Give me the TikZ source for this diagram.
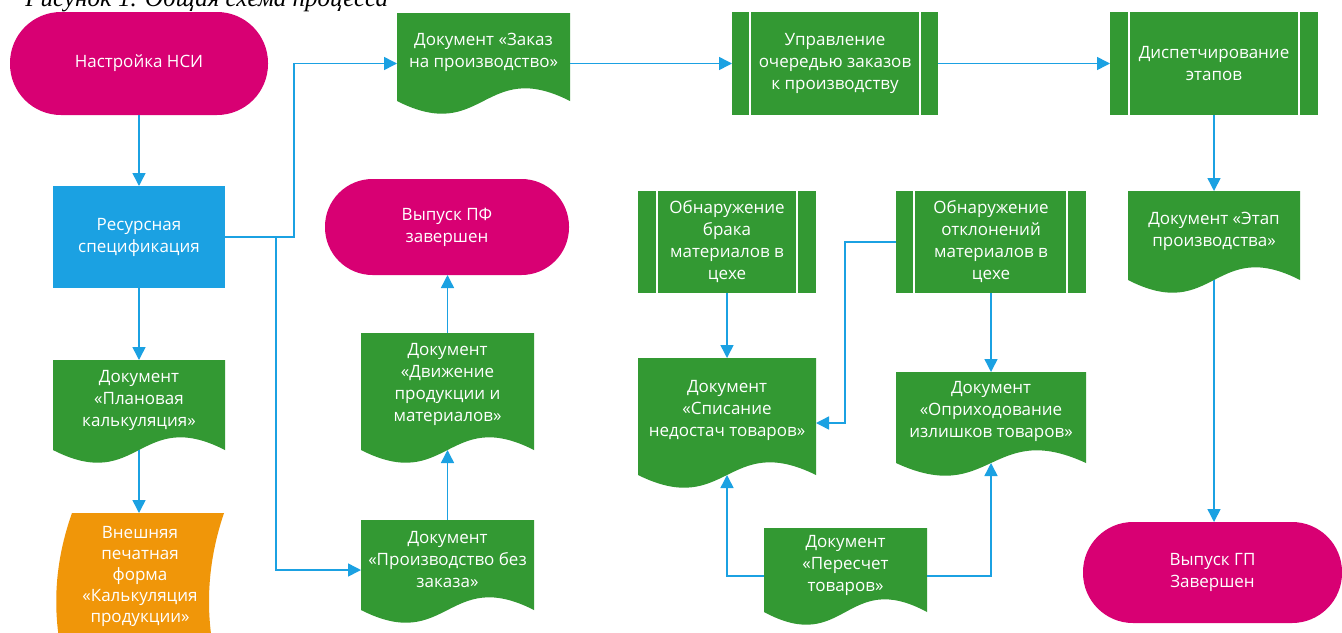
\documentclass[tikz,border=0pt]{standalone}
\usepackage{fontspec}
\setmainfont{Open Sans}
\newfontfamily\capfont{Liberation Serif}
\usetikzlibrary{arrows.meta,calc}
\definecolor{mgreen}{HTML}{339933}
\definecolor{mmag}{HTML}{D80073}
\definecolor{mblue}{HTML}{1BA1E2}
\definecolor{morange}{HTML}{F09609}
\definecolor{mline}{HTML}{1BA1E2}
\tikzset{
  lbl/.style={text=white, font=\fontsize{8.5}{11}\selectfont, align=center, inner sep=0pt},
  box/.style={rectangle, inner sep=0pt, outer sep=0pt, draw=none},
  term/.style={box, fill=mmag, lbl},
  conn/.style={draw=mline, line width=0.75pt, -{Triangle[length=6.5pt,width=6.5pt]}},
  sep/.style={draw=white, line width=0.6pt}
}
\newcommand\docnode[7]{%
  \fill[mgreen] (#2,#3) -- (#4,#3) -- (#4,#5) .. controls ({(#2+#4)/2},{#5-44}) and ({(#2+#4)/2},{#5+44}) .. (#2,#5) -- cycle;
  \node[box, minimum width={(#4-#2)*0.5pt}, minimum height={(#5-#3)*0.5pt}] (#1) at ({(#2+#4)/2},{(#3+#5)/2}) {};
  \node[lbl] (#1t) at ({(#2+#4)/2},#6) {#7};
}
\newcommand\procnode[8]{%
  \node[box, fill=mgreen, lbl, minimum width={(#4-#2)*0.5pt}, minimum height={(#5-#3)*0.5pt}] (#1) at ({(#2+#4)/2},{(#3+#5)/2}) {#8};
  \draw[sep] ($(#1.north west)+(#6,0)$) -- ($(#1.south west)+(#6,0)$);
  \draw[sep] ($(#1.north east)-(#7,0)$) -- ($(#1.south east)-(#7,0)$);
}
\begin{document}
\begin{tikzpicture}[x=0.5pt,y=-0.5pt]
\useasboundingbox (0,0) rectangle (1342,632);
\clip (0,0) rectangle (1342,632);
\fill[white] (0,0) rectangle (1342,632);

\node[anchor=base west, inner sep=0pt, font=\capfont\itshape\fontsize{12.5}{14}\selectfont] (cap) at (25,6) {Рисунок 1. Общая схема процесса};

% terminators
\node[term, minimum width=129pt, minimum height=51.5pt, rounded corners=25.5pt] (nsi) at (139,63.5) {Настройка НСИ};
\node[term, minimum width=122pt, minimum height=48pt, rounded corners=23.8pt] (pf) at (447,227) {Выпуск ПФ\\завершен};
\node[term, minimum width=129.5pt, minimum height=50.5pt, rounded corners=25pt] (gp) at (1212.5,572.5) {Выпуск ГП\\Завершен};

% process
\node[box, fill=mblue, lbl, minimum width=86pt, minimum height=51pt] (res) at (139,237) {Ресурсная\\спецификация};
\procnode{upr}{732}{12}{938}{115}{18}{18}{Управление\\очередью заказов\\к производству}
\procnode{disp}{1110}{12}{1318}{115}{19}{19}{Диспетчирование\\этапов}
\procnode{brak}{638}{191}{816}{293}{19}{19}{Обнаружение\\брака\\материалов в\\цехе}
\procnode{otkl}{896}{191}{1086}{293}{18}{19}{Обнаружение\\отклонений\\материалов в\\цехе}

% documents
\docnode{zakaz}{397}{13}{570}{101}{52}{Документ «Заказ\\на производство»}
\docnode{plan}{53}{360}{225}{450}{400}{Документ\\«Плановая\\калькуляция»}
\docnode{etap}{1128}{191}{1300}{280}{231}{Документ «Этап\\производства»}
\docnode{dvizh}{361}{333}{534}{450}{384}{Документ\\«Движение\\продукции и\\материалов»}
\docnode{proizv}{361}{520}{534}{610}{560}{Документ\\«Производство без\\заказа»}
\docnode{spis}{638}{358}{816}{475}{410}{Документ\\«Списание\\недостач товаров»}
\docnode{oprih}{896}{372}{1086}{463}{411}{Документ\\«Оприходование\\излишков товаров»}
\docnode{peresch}{764}{528}{927}{612}{565}{Документ\\«Пересчет\\товаров»}

% stored data (orange)
\fill[morange] (72,513) -- (224,513) .. controls (204,572) and (204,631) .. (224,690) -- (72,690) .. controls (51,631) and (51,572) .. (72,513) -- cycle;
\node[box, minimum width=76pt, minimum height=88.5pt] (vnesh) at (148,601.5) {};
\node[lbl, font=\fontsize{8.5}{10.5}\selectfont] (vnesht) at (140,576) {Внешняя\\печатная\\форма\\«Калькуляция\\продукции»};

% connectors
\draw[conn] (nsi.south) -- (res.north);
\draw[conn] (res.south) -- (plan.north);
\draw[conn] (plan.south) -- (plan.south |- vnesh.north);
\coordinate (j1) at (294,237);
\draw[conn] (res.east) -- (j1) |- (zakaz.west |- upr.west);
\coordinate (j2) at (276,570);
\draw[conn] (res.east) -| (j2) -- (proizv.west |- j2);
\draw[conn] (zakaz.east |- upr.west) -- (upr.west);
\draw[conn] (upr.east) -- (disp.west);
\draw[conn] (disp.south) -- (etap.north);
\draw[conn] (etap.south) -- (etap.south |- gp.north);
\draw[conn] (proizv.north) -- (dvizh.south);
\draw[conn] (dvizh.north) -- (dvizh.north |- pf.south);
\draw[conn] (brak.south) -- (spis.north);
\draw[conn] (otkl.south) -- (oprih.north);
\coordinate (j3) at (845,423);
\draw[conn] (otkl.west) -| (j3) -- (spis.east |- j3);
\coordinate (j4) at (727,576);
\draw[conn] (peresch.west |- j4) -- (j4) -- (spis.south);
\coordinate (j5) at (oprih.south |- j4);
\draw[conn] (peresch.east |- j4) -- (j5) -- (oprih.south);
\end{tikzpicture}
\end{document}
